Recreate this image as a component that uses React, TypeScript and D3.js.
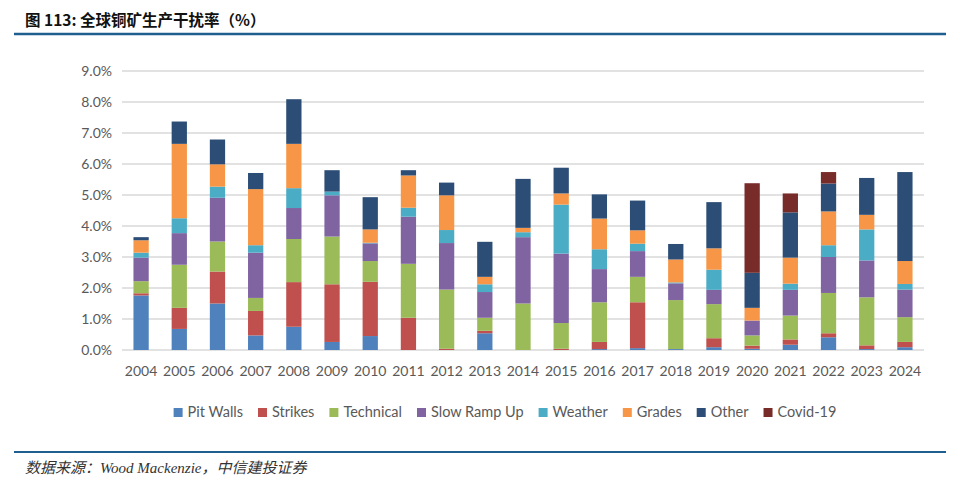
import React, { useEffect, useRef } from 'react'
import * as d3 from 'd3'

const years = ['2004', '2005', '2006', '2007', '2008', '2009', '2010', '2011', '2012', '2013', '2014',
  '2015', '2016', '2017', '2018', '2019', '2020', '2021', '2022', '2023', '2024']

const seriesNames = ['Pit Walls', 'Strikes', 'Technical', 'Slow Ramp Up', 'Weather', 'Grades', 'Other', 'Covid-19']
const seriesColors = ['#4f81bd', '#c0504d', '#9bbb59', '#8064a2', '#4bacc6', '#f79646', '#2c4d75', '#772c2a']

// values in % per year
const pitWalls = [1.76, 0.68, 1.50, 0.47, 0.75, 0.26, 0.45, 0, 0, 0.54, 0, 0, 0.03, 0.06, 0.03, 0.09, 0.04, 0.17, 0.41, 0.03, 0.09]
const strikes = [0.07, 0.68, 1.03, 0.79, 1.44, 1.86, 1.75, 1.04, 0.04, 0.08, 0, 0.04, 0.23, 1.48, 0, 0.29, 0.10, 0.17, 0.13, 0.12, 0.17]
const technical = [0.39, 1.39, 0.97, 0.42, 1.39, 1.54, 0.67, 1.74, 1.91, 0.42, 1.50, 0.83, 1.28, 0.82, 1.58, 1.10, 0.33, 0.77, 1.30, 1.55, 0.80]
const slowRampUp = [0.76, 1.02, 1.41, 1.46, 1.00, 1.33, 0.57, 1.52, 1.50, 0.83, 2.14, 2.24, 1.07, 0.83, 0.54, 0.46, 0.48, 0.83, 1.16, 1.19, 0.89]
const weather = [0.16, 0.48, 0.36, 0.24, 0.64, 0.12, 0.02, 0.29, 0.42, 0.25, 0.16, 1.58, 0.64, 0.24, 0.03, 0.65, 0, 0.20, 0.38, 1.00, 0.18]
const grades = [0.40, 2.40, 0.72, 1.81, 1.43, 0, 0.43, 1.04, 1.12, 0.24, 0.14, 0.36, 0.99, 0.43, 0.74, 0.69, 0.41, 0.84, 1.09, 0.47, 0.74]
const other = [0.10, 0.72, 0.80, 0.52, 1.44, 0.69, 1.04, 0.17, 0.41, 1.13, 1.58, 0.83, 0.78, 0.96, 0.50, 1.49, 1.13, 1.46, 0.90, 1.19, 2.87]
const covid = [0, 0, 0, 0, 0, 0, 0, 0, 0, 0, 0, 0, 0, 0, 0, 0, 2.89, 0.61, 0.37, 0, 0]

const yTicks = [0, 1, 2, 3, 4, 5, 6, 7, 8, 9]

const W = 960
const H = 483
const FONT = 'Lato, "Noto Sans", sans-serif'

export default function App() {
  const svgRef = useRef<SVGSVGElement>(null)

  useEffect(() => {
    if (!svgRef.current) return
    const svg = d3.select(svgRef.current)
    svg.selectAll('*').remove()

    const allSeries = [pitWalls, strikes, technical, slowRampUp, weather, grades, other, covid]
    const rows = years.map((y, i) => {
      const r: any = { year: y }
      seriesNames.forEach((n, k) => { r[n] = allSeries[k][i] })
      return r
    })
    const stacked = d3.stack<any>().keys(seriesNames)(rows)

    const margin = { left: 122, right: 36, top: 71, bottom: 133 }
    const x = d3.scaleBand().domain(years).range([margin.left, W - margin.right]).paddingInner(0.6).paddingOuter(0.3)
    const y = d3.scaleLinear().domain([0, 9]).range([H - margin.bottom, margin.top])

    // title + rules
    svg.append('text')
      .attr('x', 25).attr('y', 26)
      .attr('font-family', '"Noto Sans CJK SC", sans-serif')
      .attr('font-weight', 'bold').attr('font-size', 15.5).attr('fill', '#111')
      .text('图 113:  全球铜矿生产干扰率（%）')
    svg.append('line').attr('x1', 14).attr('x2', 946).attr('y1', 34).attr('y2', 34)
      .attr('stroke', '#1f5f8f').attr('stroke-width', 2.5)
    svg.append('line').attr('x1', 14).attr('x2', 946).attr('y1', 452).attr('y2', 452)
      .attr('stroke', '#1f5f8f').attr('stroke-width', 2)
    svg.append('text')
      .attr('x', 25).attr('y', 473)
      .attr('font-family', '"Liberation Serif", "Noto Sans CJK SC", serif')
      .attr('font-style', 'italic').attr('font-size', 15).attr('fill', '#333')
      .text('数据来源：Wood Mackenzie，中信建投证券')

    // grid
    svg.append('g').selectAll('line').data(yTicks).enter().append('line')
      .attr('x1', margin.left).attr('x2', W - margin.right)
      .attr('y1', d => y(d)).attr('y2', d => y(d))
      .attr('stroke', '#d9d9d9').attr('stroke-width', 1.5)

    // y labels
    svg.append('g').selectAll('text').data(yTicks).enter().append('text')
      .attr('x', 112).attr('y', d => y(d)).attr('dy', '0.35em')
      .attr('text-anchor', 'end')
      .attr('font-family', FONT).attr('font-size', 14).attr('fill', '#595959')
      .text(d => d.toFixed(1) + '%')

    // bars
    stacked.forEach((layer, k) => {
      svg.append('g').attr('fill', seriesColors[k])
        .selectAll('rect').data(layer).enter().append('rect')
        .attr('x', d => x(d.data.year) as number)
        .attr('width', x.bandwidth())
        .attr('y', d => y(d[1]))
        .attr('height', d => Math.max(0, y(d[0]) - y(d[1])))
    })

    // x labels
    svg.append('g').selectAll('text').data(years).enter().append('text')
      .attr('x', d => (x(d) as number) + x.bandwidth() / 2).attr('y', 376)
      .attr('text-anchor', 'middle')
      .attr('font-family', FONT).attr('font-size', 14).attr('fill', '#595959')
      .text(d => d)

    // legend
    const leg = svg.append('g')
    let cx = 0
    const gap = 15
    seriesNames.forEach((n, k) => {
      const g = leg.append('g').attr('transform', `translate(${cx},0)`)
      g.append('rect').attr('x', 0).attr('y', -9).attr('width', 9).attr('height', 9).attr('fill', seriesColors[k])
      const t = g.append('text').attr('x', 14).attr('y', 0)
        .attr('font-family', FONT).attr('font-size', 14.5).attr('fill', '#595959').text(n)
      const w = (t.node() as SVGTextElement).getComputedTextLength()
      cx += 14 + w + gap
    })
    const total = cx - gap
    leg.attr('transform', `translate(${505 - total / 2},417)`)
  }, [])

  return <svg ref={svgRef} width={W} height={H} style={{ display: 'block', position: 'absolute', left: 0, top: 0, background: '#fff' }} />
}
